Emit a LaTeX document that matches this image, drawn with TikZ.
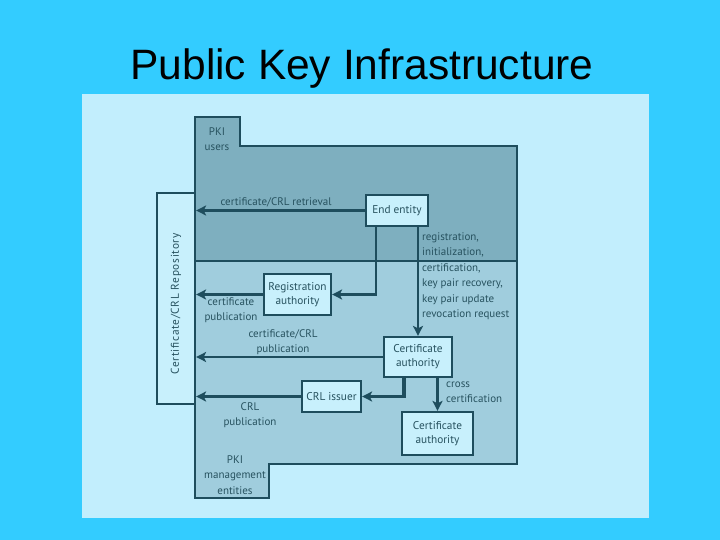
\documentclass[tikz,border=0pt]{standalone}
\usepackage{fontspec}
\setmainfont{PT Sans}
\newfontfamily\titlefont{Liberation Sans}
\newfontfamily\spacedfont[LetterSpace=6]{PT Sans}
\usetikzlibrary{arrows.meta,calc}
\definecolor{slidebg}{HTML}{33CCFF}
\definecolor{panelbg}{HTML}{C2EEFD}
\definecolor{upperbg}{HTML}{7EAFBF}
\definecolor{lowerbg}{HTML}{A0CDDD}
\definecolor{boxbg}{HTML}{C8F0FC}
\definecolor{ink}{HTML}{1E4D5D}
\definecolor{txt}{HTML}{27525F}
\tikzset{
  region/.style={draw=ink,line width=2.2pt},
  entity/.style={draw=ink,line width=2.2pt,fill=boxbg,inner sep=0pt,text=txt,align=center,font=\fontsize{11.3}{14}\selectfont},
  lbl/.style={text=txt,font=\fontsize{11}{15.5}\selectfont,inner sep=0pt},
  conn/.style={draw=ink,line width=2.2pt},
  arr/.style={conn,-{Stealth[length=10pt,width=10pt,inset=2.5pt]}},
  thickarr/.style={draw=ink,line width=3.2pt,-{Stealth[length=10pt,width=10pt,inset=2.5pt]}}
}
\begin{document}
\begin{tikzpicture}[x=1pt,y=-1pt]
\useasboundingbox (0,0) rectangle (720,540);
\fill[slidebg] (0,0) rectangle (720,540);
\node[font=\titlefont\fontsize{42.5}{44}\selectfont,text=black,inner sep=0pt,anchor=base] (title) at (362,80) {Public Key Infrastructure};
\fill[panelbg] (82,94) rectangle (649,518);
% regions
\draw[region,fill=upperbg] (195,117) -- (240,117) -- (240,146) -- (517,146) -- (517,261) -- (195,261) -- cycle;
\draw[region,fill=lowerbg] (195,261) -- (517,261) -- (517,464) -- (269,464) -- (269,498) -- (195,498) -- cycle;
\node[lbl,align=center] (pkiusers) at (217,139) {PKI\\users};
\node[lbl,align=center] (pkimgmt) at (235,475) {PKI\\management\\entities};
% repository
\node[draw=ink,line width=2.2pt,fill=boxbg,minimum width=211pt,minimum height=38pt,inner sep=0pt,rotate=90,text=txt,font=\spacedfont\fontsize{11.3}{14}\selectfont] (repo) at (176,298.5) {};
\node[rotate=90,text=txt,font=\spacedfont\fontsize{11.3}{14}\selectfont,inner sep=0pt] (repolbl) at (176,304) {Certificate/CRL Repository};
% entities
\node[entity,minimum width=62pt,minimum height=31pt] (ee) at (397,210.5) {End entity};
\node[entity,minimum width=67pt,minimum height=41pt] (ra) at (297.5,294.5) {Registration\\authority};
\node[entity,minimum width=68pt,minimum height=40pt] (ca1) at (418,357) {Certificate\\authority};
\node[entity,minimum width=59pt,minimum height=31pt] (crl) at (331.5,396.5) {CRL issuer};
\node[entity,minimum width=71pt,minimum height=43pt] (ca2) at (437.5,433.5) {Certificate\\authority};
% connectors
\draw[arr] (ee.west) -- (ee.west -| repo.south);
\draw[arr] ($(ee.south west)+(11,0)$) |- (ra.east);
\draw[arr] (ee.south -| ca1.north) -- (ca1.north);
\draw[arr] (ra.west) -- (ra.west -| repo.south);
\draw[arr] (ca1.west) -- (ca1.west -| repo.south);
\draw[thickarr] ($(ca1.south west)+(21,0)$) |- (crl.east);
\draw[thickarr] (crl.west) -- (crl.west -| repo.south);
\draw[arr] (ca2.north |- ca1.south) -- (ca2.north);
% labels
\node[lbl] (l1) at (276,202) {certificate/CRL retrieval};
\node[lbl,align=center] (l2) at (231,310) {certificate\\publication};
\node[lbl,align=center] (l3) at (283,342) {certificate/CRL\\publication};
\node[lbl,align=center] (l4) at (250,415) {CRL\\publication};
\node[lbl,align=left,anchor=west] (l5) at (422,276) {registration,\\initialization,\\certification,\\key pair recovery,\\key pair update\\revocation request};
\node[lbl,align=left,anchor=west] (l6) at (446,392) {cross\\certification};
\end{tikzpicture}
\end{document}
